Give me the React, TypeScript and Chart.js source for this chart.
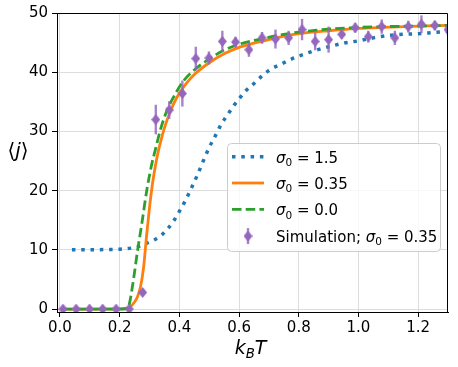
import { useEffect, useRef } from "react";
import { Chart, registerables } from "chart.js";
Chart.register(...registerables);

// Simulation data (sigma0 = 0.35)
const simX = [0.010, 0.054, 0.099, 0.143, 0.188, 0.232, 0.277, 0.321, 0.366, 0.410, 0.455, 0.499, 0.544, 0.588, 0.633, 0.677, 0.722, 0.766, 0.811, 0.855, 0.900, 0.944, 0.989, 1.033, 1.078, 1.122, 1.167, 1.211, 1.256, 1.300];
const simY = [0, 0, 0, 0, 0, 0, 2.8, 32.0, 33.6, 36.4, 42.3, 42.4, 45.2, 45.1, 43.8, 45.8, 45.6, 45.8, 47.2, 45.2, 45.5, 46.4, 47.5, 46.0, 47.7, 45.8, 47.7, 48.1, 47.9, 47.2];
const simErr = [0, 0, 0, 0, 0, 0, 0.3, 2.5, 1.5, 2.2, 2.0, 1.1, 1.8, 0.9, 1.2, 1.0, 1.6, 1.2, 1.8, 1.5, 2.2, 0.7, 0.8, 1.0, 1.2, 1.2, 1.0, 1.5, 0.8, 1.0];

// sigma0 = 1.5 (blue dotted)
const blueX = [0.04, 0.1, 0.15, 0.2, 0.24, 0.26, 0.28, 0.3, 0.32, 0.34, 0.36, 0.38, 0.40, 0.42, 0.44, 0.46, 0.48, 0.50, 0.52, 0.54, 0.56, 0.58, 0.60, 0.625, 0.65, 0.675, 0.70, 0.725, 0.75, 0.775, 0.80, 0.85, 0.90, 0.95, 1.0, 1.05, 1.1, 1.15, 1.2, 1.25, 1.3];
const blueY = [10.0, 10.0, 10.05, 10.1, 10.3, 10.5, 10.9, 11.3, 11.8, 12.5, 13.5, 14.8, 16.5, 18.3, 20.4, 22.6, 25.0, 27.3, 29.2, 31.2, 32.7, 34.2, 35.5, 37.0, 38.1, 39.3, 40.3, 41.0, 41.6, 42.2, 42.7, 43.6, 44.3, 44.9, 45.3, 45.8, 46.2, 46.4, 46.5, 46.7, 46.9];

// sigma0 = 0.35 (orange solid)
const orangeX = [0.01, 0.1, 0.2, 0.22, 0.235, 0.25, 0.26, 0.27, 0.28, 0.29, 0.30, 0.31, 0.32, 0.33, 0.34, 0.35, 0.37, 0.39, 0.42, 0.45, 0.50, 0.55, 0.60, 0.65, 0.70, 0.75, 0.80, 0.90, 1.0, 1.1, 1.2, 1.3];
const orangeY = [0, 0, 0.02, 0.1, 0.4, 1.2, 2.1, 3.8, 7.0, 12.3, 17.2, 21.2, 24.3, 26.8, 28.8, 30.6, 33.4, 35.6, 37.9, 39.6, 41.6, 43.1, 44.2, 44.9, 45.5, 46.1, 46.5, 47.0, 47.4, 47.6, 47.8, 47.9];

// sigma0 = 0.0 (green dashed)
const greenX = [0.01, 0.1, 0.2, 0.222, 0.228, 0.233, 0.246, 0.26, 0.275, 0.291, 0.308, 0.319, 0.336, 0.359, 0.387, 0.415, 0.448, 0.493, 0.549, 0.605, 0.672, 0.75, 0.86, 0.97, 1.09, 1.2, 1.3];
const greenY = [0, 0, 0, 0.05, 0.2, 1.0, 4.9, 9.9, 14.7, 20.1, 24.6, 26.8, 30.2, 33.6, 36.4, 38.6, 40.3, 42.0, 43.7, 44.8, 45.6, 46.4, 47.1, 47.5, 47.7, 47.8, 47.9];

const xTicks = [0, 0.2, 0.4, 0.6, 0.8, 1.0, 1.2];
const yTicks = [0, 10, 20, 30, 40, 50];
const legendValues = ["1.5", "0.35", "0.0"];
const simLabel = "Simulation; ";
const simSigma = "0.35";

const BLUE = "#1f77b4";
const ORANGE = "#ff7f0e";
const GREEN = "#2ca02c";
const PURPLE = "#9467bd";
const ERR = "rgba(148,103,189,0.82)";
const FONT = "'DejaVu Sans', sans-serif";

type Run = { text: string; font: string; dy?: number };

function drawRuns(ctx: CanvasRenderingContext2D, runs: Run[], x: number, y: number, align: "left" | "center" = "left") {
  ctx.save();
  ctx.textBaseline = "alphabetic";
  ctx.textAlign = "left";
  let total = 0;
  for (const r of runs) {
    ctx.font = r.font;
    total += ctx.measureText(r.text).width;
  }
  let cx = align === "center" ? x - total / 2 : x;
  for (const r of runs) {
    ctx.font = r.font;
    ctx.fillText(r.text, cx, y + (r.dy || 0));
    cx += ctx.measureText(r.text).width;
  }
  ctx.restore();
}

function sigmaRuns(value: string, size: number): Run[] {
  return [
    { text: "σ", font: `italic ${size}px ${FONT}` },
    { text: "0", font: `${size * 0.7}px ${FONT}`, dy: size * 0.22 },
    { text: " = " + value, font: `${size}px ${FONT}` },
  ];
}

function makeDiamond(w: number, h: number): HTMLCanvasElement {
  const c = document.createElement("canvas");
  c.width = w;
  c.height = h;
  const g = c.getContext("2d")!;
  g.fillStyle = PURPLE;
  g.beginPath();
  g.moveTo(w / 2, 0);
  g.lineTo(w, h / 2);
  g.lineTo(w / 2, h);
  g.lineTo(0, h / 2);
  g.closePath();
  g.fill();
  return c;
}

const pts = (xs: number[], ys: number[]) => xs.map((x, i) => ({ x, y: ys[i] }));

export default function App() {
  const ref = useRef<HTMLCanvasElement | null>(null);

  useEffect(() => {
    if (!ref.current) return;
    const diamond = makeDiamond(9, 11);

    const errorBars = {
      id: "errorBars",
      beforeDatasetDraw(chart: any, args: any) {
        if (args.index !== 3) return;
        const { ctx, chartArea, scales } = chart;
        const xs = scales.x;
        const ys = scales.y;
        ctx.save();
        ctx.beginPath();
        ctx.rect(chartArea.left, chartArea.top, chartArea.right - chartArea.left, chartArea.bottom - chartArea.top);
        ctx.clip();
        ctx.strokeStyle = ERR;
        ctx.lineWidth = 2.4;
        simX.forEach((xv, i) => {
          if (!simErr[i]) return;
          const px = xs.getPixelForValue(xv);
          ctx.beginPath();
          ctx.moveTo(px, ys.getPixelForValue(simY[i] - simErr[i]));
          ctx.lineTo(px, ys.getPixelForValue(simY[i] + simErr[i]));
          ctx.stroke();
        });
        ctx.restore();
      },
    };

    const frame = {
      id: "frame",
      afterDatasetsDraw(chart: any) {
        const { ctx, chartArea } = chart;
        ctx.save();
        ctx.strokeStyle = "#000";
        ctx.lineWidth = 1;
        const t = Math.round(chartArea.top) + 0.5;
        const r = Math.round(chartArea.right) - 0.5;
        ctx.beginPath();
        ctx.moveTo(chartArea.left, t);
        ctx.lineTo(r, t);
        ctx.lineTo(r, chartArea.bottom);
        ctx.stroke();
        ctx.restore();
      },
    };

    const labelsAndLegend = {
      id: "labelsAndLegend",
      afterDraw(chart: any) {
        const { ctx, chartArea } = chart;
        ctx.save();
        ctx.fillStyle = "#000";
        // x-axis title k_B T
        const cxm = (chartArea.left + chartArea.right) / 2;
        drawRuns(
          ctx,
          [
            { text: "k", font: `italic 19px ${FONT}` },
            { text: "B", font: `italic 13.3px ${FONT}`, dy: 4 },
            { text: "T", font: `italic 19px ${FONT}` },
          ],
          cxm - 2,
          354,
          "center"
        );
        // y-axis title <j>
        drawRuns(
          ctx,
          [
            { text: "⟨", font: `20px ${FONT}` },
            { text: "j", font: `italic 20px ${FONT}` },
            { text: "⟩", font: `20px ${FONT}` },
          ],
          18,
          157,
          "center"
        );

        // legend
        const bx = 227.5, by = 143.5, bw = 213, bh = 108, rad = 4;
        ctx.beginPath();
        ctx.moveTo(bx + rad, by);
        ctx.lineTo(bx + bw - rad, by);
        ctx.arcTo(bx + bw, by, bx + bw, by + rad, rad);
        ctx.lineTo(bx + bw, by + bh - rad);
        ctx.arcTo(bx + bw, by + bh, bx + bw - rad, by + bh, rad);
        ctx.lineTo(bx + rad, by + bh);
        ctx.arcTo(bx, by + bh, bx, by + bh - rad, rad);
        ctx.lineTo(bx, by + rad);
        ctx.arcTo(bx, by, bx + rad, by, rad);
        ctx.closePath();
        ctx.fillStyle = "rgba(255,255,255,0.8)";
        ctx.fill();
        ctx.strokeStyle = "#cccccc";
        ctx.lineWidth = 1;
        ctx.stroke();

        const baselines = [162.7, 189, 215.3, 241.6];
        const hx0 = 232, hx1 = 264, tx = 276;
        const styles = [
          { color: BLUE, width: 3.5, dash: [3.5, 5.8] },
          { color: ORANGE, width: 2.8, dash: [] as number[] },
          { color: GREEN, width: 2.8, dash: [9.5, 4.2] },
        ];
        styles.forEach((s, i) => {
          const hy = baselines[i] - 6;
          ctx.save();
          ctx.strokeStyle = s.color;
          ctx.lineWidth = s.width;
          ctx.lineCap = "butt";
          ctx.setLineDash(s.dash);
          ctx.beginPath();
          ctx.moveTo(hx0, hy);
          ctx.lineTo(hx1, hy);
          ctx.stroke();
          ctx.restore();
          ctx.fillStyle = "#000";
          drawRuns(ctx, sigmaRuns(legendValues[i], 15), tx, baselines[i]);
        });
        // simulation handle
        const sy = baselines[3] - 5.5;
        const sx = (hx0 + hx1) / 2;
        ctx.save();
        ctx.strokeStyle = ERR;
        ctx.lineWidth = 2.4;
        ctx.beginPath();
        ctx.moveTo(sx, sy - 8);
        ctx.lineTo(sx, sy + 8);
        ctx.stroke();
        ctx.drawImage(diamond, sx - diamond.width / 2, sy - diamond.height / 2);
        ctx.restore();
        ctx.fillStyle = "#000";
        drawRuns(
          ctx,
          [{ text: simLabel, font: `15px ${FONT}` }, ...sigmaRuns(simSigma, 15)],
          tx,
          baselines[3]
        );
        ctx.restore();
      },
    };

    const chart = new Chart(ref.current, {
      type: "scatter",
      data: {
        datasets: [
          {
            label: "σ0 = 1.5",
            data: pts(blueX, blueY),
            showLine: true,
            borderColor: BLUE,
            backgroundColor: BLUE,
            borderWidth: 3.5,
            borderDash: [3.5, 5.8],
            borderCapStyle: "butt",
            pointRadius: 0,
            cubicInterpolationMode: "monotone",
            clip: 0,
            order: 3,
          },
          {
            label: "σ0 = 0.35",
            data: pts(orangeX, orangeY),
            showLine: true,
            borderColor: ORANGE,
            backgroundColor: ORANGE,
            borderWidth: 2.8,
            pointRadius: 0,
            cubicInterpolationMode: "monotone",
            clip: 0,
            order: 2,
          },
          {
            label: "σ0 = 0.0",
            data: pts(greenX, greenY),
            showLine: true,
            borderColor: GREEN,
            backgroundColor: GREEN,
            borderWidth: 2.8,
            borderDash: [9.5, 4.2],
            borderCapStyle: "butt",
            pointRadius: 0,
            cubicInterpolationMode: "monotone",
            clip: 0,
            order: 1,
          },
          {
            label: "Simulation; σ0 = 0.35",
            data: pts(simX, simY),
            showLine: false,
            pointStyle: diamond as any,
            pointRadius: 5,
            borderColor: PURPLE,
            backgroundColor: PURPLE,
            clip: 0,
            order: 0,
          },
        ] as any,
      },
      options: {
        animation: false,
        responsive: false,
        devicePixelRatio: 1,
        layout: { padding: { top: 13, right: 10, left: 0, bottom: 0 } },
        plugins: { legend: { display: false }, tooltip: { enabled: false } },
        events: [],
        scales: {
          x: {
            type: "linear",
            min: -0.01,
            max: 1.3,
            afterFit: (s: any) => {
              s.height = 55;
            },
            afterBuildTicks: (s: any) => {
              s.ticks = xTicks.map((v) => ({ value: v }));
            },
            ticks: {
              color: "#000",
              font: { family: FONT, size: 15 },
              padding: 2,
              maxRotation: 0,
              autoSkip: false,
              callback: (v: any) => Number(v).toFixed(1),
            },
            grid: { color: "#dddddd", lineWidth: 1, tickColor: "#000", tickLength: 5, tickWidth: 1 },
            border: { color: "#000", width: 1 },
          },
          y: {
            type: "linear",
            min: -0.5,
            max: 50,
            afterFit: (s: any) => {
              s.width = 57;
            },
            afterBuildTicks: (s: any) => {
              s.ticks = yTicks.map((v) => ({ value: v }));
            },
            ticks: {
              color: "#000",
              font: { family: FONT, size: 15 },
              padding: 4,
              autoSkip: false,
              callback: (v: any) => String(v),
            },
            grid: { color: "#dddddd", lineWidth: 1, tickColor: "#000", tickLength: 5, tickWidth: 1 },
            border: { color: "#000", width: 1 },
          },
        },
      } as any,
      plugins: [errorBars, frame, labelsAndLegend],
    });
    return () => chart.destroy();
  }, []);

  return (
    <div style={{ position: "absolute", left: 0, top: 0, width: 458, height: 367, background: "#fff" }}>
      <canvas ref={ref} width={458} height={367} style={{ width: 458, height: 367, display: "block" }} />
    </div>
  );
}
